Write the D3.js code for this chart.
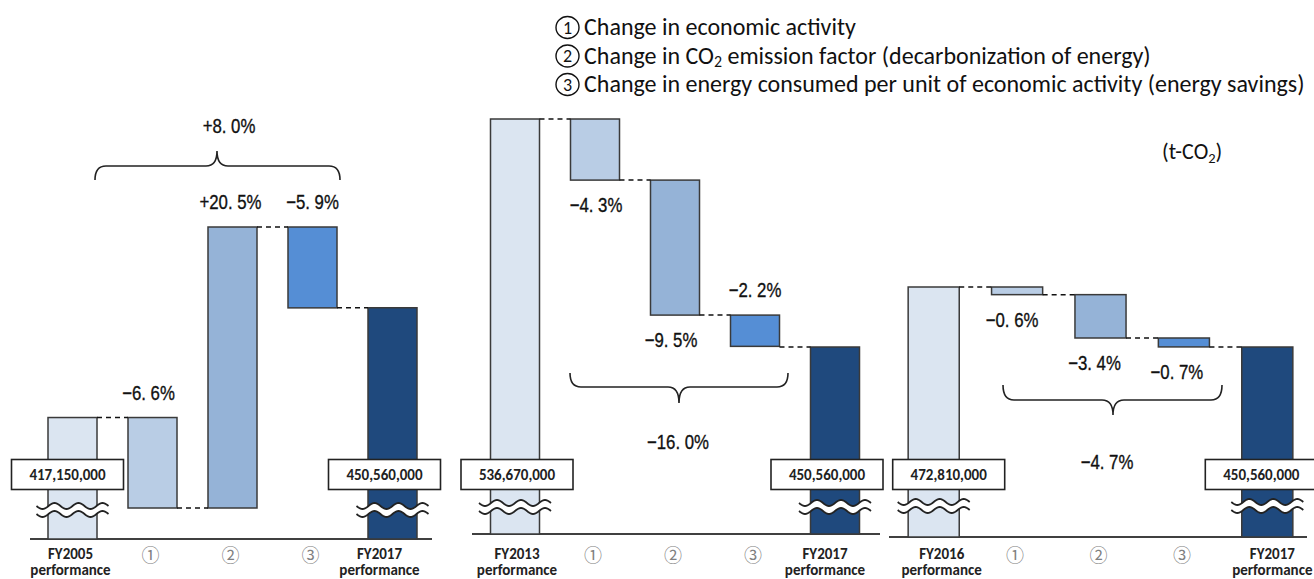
<!DOCTYPE html>
<html>
<head>
<meta charset="utf-8">
<script src="https://cdn.jsdelivr.net/npm/d3@7"></script>
<style>
  body { margin: 0; background: #fff; }
  svg { display: block; }
</style>
</head>
<body>
<svg id="chart" width="1314" height="579"></svg>
<script>
// ---- data -------------------------------------------------------------
const factorKeys = ["①", "②", "③"];
const baseYears = ["FY2005", "FY2013", "FY2016"];
const baseValues = [417150000, 536670000, 472810000];
const targetYear = "FY2017";
const targetValue = 450560000;
const changesFrom2005 = [-6.6, 20.5, -5.9];
const changesFrom2013 = [-4.3, -9.5, -2.2];
const changesFrom2016 = [-0.6, -3.4, -0.7];
const totalChanges = [8.0, -16.0, -4.7];
const performanceWord = "performance";
const legendNumbers = ["1", "2", "3"];
const legendTexts = [
  "Change in economic activity",
  "Change in CO₂ emission factor (decarbonization of energy)",
  "Change in energy consumed per unit of economic activity (energy savings)"
];
const unitText = "(t-CO₂)";

// ---- layout & style -----------------------------------------------------
const changeSets = [changesFrom2005, changesFrom2013, changesFrom2016];
const panelLayout = [
  { xRange: [32.5, 432.5], yTop: 227, yBottom: 508, axisY: 539, axisX: [30, 432], breakY: 510,
    pctPos: ["above", "above", "above"], pctDx: [-4, -2, 0],
    brace: { x0: 95, x1: 340, yEnd: 180, yMid: 166, yTip: 151, xTip: 217, lx: 229, ly: 126 },
    boxDx: [-5, -8], catDx: [-2, -13] },
  { xRange: [475, 875], yTop: 119, yBottom: 347, axisY: 534, axisX: [472, 880], breakY: 507,
    pctPos: ["below", "below", "above"], pctDx: [1, -4, 0],
    brace: { x0: 570, x1: 788, yEnd: 373, yMid: 387, yTip: 403, xTip: 679, lx: 678, ly: 442 },
    boxDx: [2, -8], catDx: [2, -10] },
  { xRange: [892, 1309], yTop: 287, yBottom: 347, axisY: 537, axisX: [889, 1307], breakY: 506,
    pctPos: ["below", "below", "below"], pctDx: [-5, -6, -7],
    brace: { x0: 1003, x1: 1222, yEnd: 385, yMid: 400, yTip: 415, xTip: 1113, lx: 1107, ly: 462 },
    boxDx: [15, -6], catDx: [8, 5] }
];
const barColors = ["#dbe5f1", "#b9cde5", "#95b3d7", "#558ed5", "#1f497d"];
const strokeCol = "#3a3a3a";
const pctFont = "'Liberation Sans', Arial, sans-serif";
const pctSize = 21;
const pctSqueeze = 0.8;          // narrow gothic look for the percentages
const bodyFont = "Carlito, Calibri, Lato, sans-serif";
const cjkFont = "'Noto Sans CJK JP', sans-serif";

const svg = d3.select("#chart");

const fmtPct = v => (v > 0 ? "+" : "−") + Math.abs(v).toFixed(1).replace(".", ". ") + "%";
const fmtNum = d3.format(",");

function pctText(g, px, py, label) {
  g.append("text")
    .attr("transform", `translate(${px},${py}) scale(${pctSqueeze},1)`)
    .attr("text-anchor", "middle").attr("dominant-baseline", "central")
    .attr("font-family", pctFont).attr("font-size", pctSize).attr("fill", "#111")
    .attr("stroke", "#111").attr("stroke-width", 0.35)
    .text(label);
}

function bracePath(b) {
  const r = 11;
  return `M${b.x0},${b.yEnd} Q${b.x0},${b.yMid} ${b.x0 + r},${b.yMid} ` +
         `L${b.xTip - r},${b.yMid} Q${b.xTip},${b.yMid} ${b.xTip},${b.yTip} ` +
         `Q${b.xTip},${b.yMid} ${b.xTip + r},${b.yMid} ` +
         `L${b.x1 - r},${b.yMid} Q${b.x1},${b.yMid} ${b.x1},${b.yEnd}`;
}

// axis-break symbol: white band bounded by two wavy lines
function drawBreak(g, cx, cy) {
  const half = 36, amp = 3, gap = 8, periods = 3;
  const xs = d3.range(0, 61).map(i => cx - half + (2 * half) * i / 60);
  const wy = (x, off) => cy + off + amp * Math.sin((x - (cx - half)) / (2 * half) * periods * 2 * Math.PI);
  const top = xs.map(x => [x, wy(x, -gap / 2)]);
  const bot = xs.map(x => [x, wy(x, gap / 2)]);
  const line = d3.line();
  g.append("path")
    .attr("d", line(top.concat(bot.slice().reverse())) + "Z")
    .attr("fill", "#fff").attr("stroke", "none");
  [top, bot].forEach(pts => g.append("path")
    .attr("d", line(pts)).attr("fill", "none")
    .attr("stroke", "#222").attr("stroke-width", 1.8));
}

panelLayout.forEach((L, p) => {
  const base = baseValues[p];
  const changes = changeSets[p];
  const cats = [baseYears[p], ...factorKeys, targetYear];

  // cumulative levels in t-CO2 after each factor
  let cum = 0;
  const steps = changes.map((c, i) => {
    const from = base * (1 + cum / 100);
    cum += c;
    const to = base * (1 + cum / 100);
    return { key: factorKeys[i], change: c, from, to };
  });
  const levels = [base, ...steps.map(s => s.to), targetValue];

  const x = d3.scaleBand().domain(cats).range(L.xRange)
    .paddingInner(0.3875).paddingOuter(0.19375);
  const y = d3.scaleLinear().domain(d3.extent(levels)).range([L.yBottom, L.yTop]);
  const bw = x.bandwidth();
  const g = svg.append("g");

  // baseline
  g.append("line")
    .attr("x1", L.axisX[0]).attr("x2", L.axisX[1])
    .attr("y1", L.axisY).attr("y2", L.axisY)
    .attr("stroke", "#404040").attr("stroke-width", 2);

  // base-year and target-year bars (broken axis, drawn to the baseline)
  const ends = [
    { cat: cats[0], value: base, color: barColors[0] },
    { cat: targetYear, value: targetValue, color: barColors[4] }
  ];
  g.selectAll(".endbar").data(ends).join("rect")
    .attr("x", d => x(d.cat)).attr("width", bw)
    .attr("y", d => y(d.value)).attr("height", d => L.axisY - y(d.value))
    .attr("fill", d => d.color).attr("stroke", strokeCol).attr("stroke-width", 1.5);

  // factor bars
  g.selectAll(".step").data(steps).join("rect")
    .attr("x", d => x(d.key)).attr("width", bw)
    .attr("y", d => y(Math.max(d.from, d.to)))
    .attr("height", d => Math.abs(y(d.from) - y(d.to)))
    .attr("fill", (d, i) => barColors[i + 1])
    .attr("stroke", strokeCol).attr("stroke-width", 1.5);

  // dashed connectors between consecutive bars
  const connectors = [
    { x1: x(cats[0]) + bw, x2: x(cats[1]), v: base },
    ...steps.map((s, i) => ({ x1: x(s.key) + bw, x2: x(cats[i + 2]), v: s.to }))
  ];
  connectors[connectors.length - 1].v = targetValue;
  g.selectAll(".conn").data(connectors).join("line")
    .attr("x1", d => d.x1).attr("x2", d => d.x2)
    .attr("y1", d => y(d.v)).attr("y2", d => y(d.v))
    .attr("stroke", "#111").attr("stroke-width", 1.5).attr("stroke-dasharray", "5,4");

  // percentage labels
  steps.forEach((d, i) => {
    const py = L.pctPos[i] === "above"
      ? y(Math.max(d.from, d.to)) - 25
      : y(Math.min(d.from, d.to)) + 25;
    pctText(g, x(d.key) + bw / 2 + L.pctDx[i], py, fmtPct(d.change));
  });

  // brace and total change
  g.append("path").attr("d", bracePath(L.brace))
    .attr("fill", "none").attr("stroke", "#222").attr("stroke-width", 1.6);
  pctText(g, L.brace.lx, L.brace.ly, fmtPct(totalChanges[p]));

  // break marks
  ends.forEach(d => drawBreak(g, x(d.cat) + bw / 2, L.breakY));

  // value boxes
  ends.forEach((d, i) => {
    const cx = x(d.cat) + bw / 2 + L.boxDx[i];
    g.append("rect")
      .attr("x", cx - 56).attr("y", 459.5).attr("width", 112).attr("height", 30)
      .attr("fill", "#fff").attr("stroke", "#222").attr("stroke-width", 1.6);
    g.append("text")
      .attr("x", cx).attr("y", 475)
      .attr("text-anchor", "middle").attr("dominant-baseline", "central")
      .attr("font-family", bodyFont).attr("font-weight", 700).attr("font-size", 15)
      .attr("fill", "#222")
      .text(fmtNum(d.value));
  });

  // category labels under the baseline
  ends.forEach((d, i) => {
    const cx = x(d.cat) + bw / 2 + L.catDx[i];
    const t = g.append("text")
      .attr("x", cx).attr("y", 559)
      .attr("text-anchor", "middle")
      .attr("font-family", bodyFont).attr("font-weight", 700).attr("font-size", 15)
      .attr("fill", "#222");
    t.append("tspan").text(d.cat);
    t.append("tspan").attr("x", cx).attr("dy", 16).text(performanceWord);
  });
  g.selectAll(".fk").data(factorKeys).join("text")
    .attr("x", d => x(d) + bw / 2 - 2).attr("y", 554)
    .attr("text-anchor", "middle").attr("dominant-baseline", "central")
    .attr("font-family", cjkFont).attr("font-size", 18).attr("fill", "#808080")
    .text(d => d);
});

// writes text with "₂" rendered as a lowered, smaller 2
function richText(sel, str, size) {
  const parts = str.split("₂");
  parts.forEach((part, i) => {
    if (i > 0) {
      sel.append("tspan").attr("dy", size * 0.16).attr("font-size", size * 0.66).text("2");
      sel.append("tspan").attr("dy", -size * 0.16).text(part);
    } else {
      sel.append("tspan").text(part);
    }
  });
}

// legend: circled factor number followed by its description
const legendSize = 24;
const legend = svg.append("g").attr("transform", "translate(555,0)");
legendTexts.forEach((txt, i) => {
  const by = 35 + i * 28.5;
  legend.append("ellipse")
    .attr("cx", 12.5).attr("cy", by - 7.5).attr("rx", 11.5).attr("ry", 11)
    .attr("fill", "none").attr("stroke", "#111").attr("stroke-width", 1.4);
  legend.append("text").attr("x", 12.5).attr("y", by - 7.5)
    .attr("text-anchor", "middle").attr("dominant-baseline", "central")
    .attr("font-family", bodyFont).attr("font-size", 18).attr("fill", "#111")
    .text(legendNumbers[i]);
  const t = legend.append("text").attr("x", 29).attr("y", by)
    .attr("font-family", bodyFont).attr("font-size", legendSize).attr("fill", "#111");
  richText(t, txt, legendSize);
});

// unit
const u = svg.append("text").attr("x", 1162).attr("y", 159)
  .attr("font-family", bodyFont).attr("font-size", 22).attr("fill", "#111");
richText(u, unitText, 22);
</script>
</body>
</html>
